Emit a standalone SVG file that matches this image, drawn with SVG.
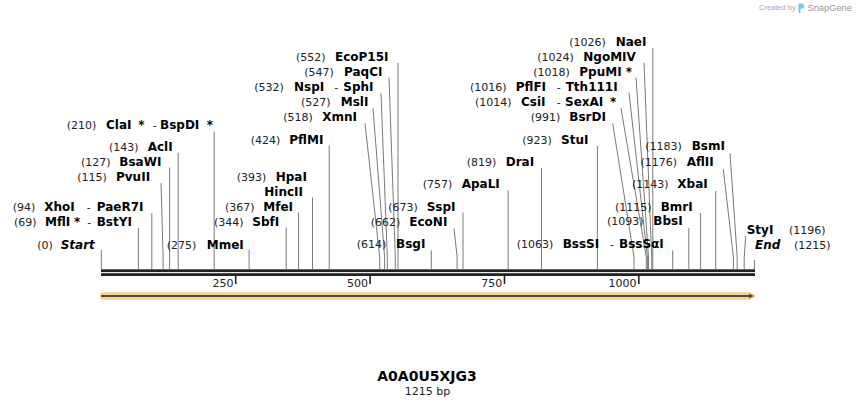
<svg xmlns="http://www.w3.org/2000/svg" width="856" height="408" viewBox="0 0 856 408">
<style>
text{font-family:"DejaVu Sans",Verdana,sans-serif;font-size:11px;fill:#222}
.b{font-weight:bold;font-size:12px;fill:#000}
.i{font-style:italic}
.c line,.c polyline{stroke:#7a7a7a;stroke-width:1;fill:none}
.tk{stroke:#222;stroke-width:1.6}
.tl{text-anchor:end}
.wm{font-family:"Liberation Sans",Arial,sans-serif;fill:#aaa}
</style>
<rect width="856" height="408" fill="#fff"/>
<g id="watermark">
<text class="wm" x="759" y="10" style="font-size:7.5px">Created by</text>
<path d="M798.5,3.5 h3 a2.6,2.6 0 0 1 0,5.2 h-1 v4.3 h-2 z" fill="#7cc6ee"/>
<text class="wm" x="807.5" y="11" style="font-size:9.3px;fill:#999">SnapGene</text>
</g>
<g id="connectors" class="c">
<line x1="101.3" y1="250" x2="101.3" y2="269"/>
<line x1="138.4" y1="228" x2="138.4" y2="269"/>
<line x1="151.8" y1="213" x2="151.8" y2="269"/>
<polyline points="161,183 163.1,257 163.1,269"/>
<line x1="169.6" y1="167.5" x2="169.6" y2="269"/>
<line x1="178.2" y1="152.7" x2="178.2" y2="269"/>
<line x1="214.2" y1="131.5" x2="214.2" y2="269"/>
<line x1="249.1" y1="250" x2="249.1" y2="269"/>
<line x1="286.2" y1="227.5" x2="286.2" y2="269"/>
<line x1="298.6" y1="212.5" x2="298.6" y2="269"/>
<line x1="312.5" y1="197.5" x2="312.5" y2="269"/>
<line x1="329.2" y1="145.5" x2="329.2" y2="269"/>
<polyline points="365,123.3 379.7,257 379.7,269"/>
<polyline points="373,108.3 384.6,257 384.6,269"/>
<polyline points="381,93.3 387.3,257 387.3,269"/>
<polyline points="389,77.7 395.3,257 395.3,269"/>
<line x1="398" y1="63" x2="398" y2="269"/>
<line x1="431.3" y1="250.5" x2="431.3" y2="269"/>
<polyline points="454,228.3 457.1,257 457.1,269"/>
<line x1="463" y1="212.5" x2="463" y2="269"/>
<line x1="508.2" y1="190.5" x2="508.2" y2="269"/>
<line x1="541.5" y1="168" x2="541.5" y2="269"/>
<line x1="597.4" y1="146" x2="597.4" y2="269"/>
<polyline points="612.7,123.3 634,257 634,269"/>
<polyline points="621,108.3 646.3,257 646.3,269"/>
<polyline points="629,92.7 647.4,257 647.4,269"/>
<polyline points="636,77.7 648.5,257 648.5,269"/>
<polyline points="644,62.7 651.7,257 651.7,269"/>
<line x1="652.8" y1="48" x2="652.8" y2="269"/>
<line x1="672.7" y1="250.5" x2="672.7" y2="269"/>
<line x1="688.8" y1="228" x2="688.8" y2="269"/>
<line x1="700.6" y1="213" x2="700.6" y2="269"/>
<line x1="715.7" y1="191" x2="715.7" y2="269"/>
<polyline points="723.3,169 733.4,257 733.4,269"/>
<polyline points="730,153.3 737.2,257 737.2,269"/>
<polyline points="745.7,236 744.2,258 744.2,269"/>
<line x1="754.4" y1="260" x2="754.4" y2="269"/>
</g>
<g id="sequence">
<rect x="101" y="269.3" width="654" height="2.8" fill="#222"/>
<rect x="101" y="273.2" width="654" height="2.8" fill="#222"/>
<line class="tk" x1="235.7" y1="276" x2="235.7" y2="284"/>
<line class="tk" x1="370.1" y1="276" x2="370.1" y2="284"/>
<line class="tk" x1="504.5" y1="276" x2="504.5" y2="284"/>
<line class="tk" x1="638.8" y1="276" x2="638.8" y2="284"/>
<text class="tl" x="233.5" y="287">250</text>
<text class="tl" x="368" y="287">500</text>
<text class="tl" x="502.3" y="287">750</text>
<text class="tl" x="636.6" y="287">1000</text>
</g>
<g id="feature">
<path d="M101,292.8 H750 L755.8,296 L750,299.2 H101 Z" fill="#fdd58e" stroke="#f7c66a" stroke-width="0.8"/>
<line x1="101" y1="296" x2="751" y2="296" stroke="#4a4a4a" stroke-width="2"/>
<path d="M749,293.6 L753.8,296 L749,298.4 Z" fill="#4a4a4a"/>
</g>
<g id="n-start"><text x="37.3" y="248.5">(0)</text><text class="b i" x="60.7" y="248.5">Start</text></g>
<g id="n-mfli"><text x="14" y="226">(69)</text><text class="b" x="45" y="226">MflI</text><text class="b" x="74" y="226">*</text><text x="87.3" y="226">-</text><text class="b" x="96.7" y="226">BstYI</text></g>
<g id="n-xhoi"><text x="12.7" y="211">(94)</text><text class="b" x="44.3" y="211">XhoI</text><text x="86.7" y="211">-</text><text class="b" x="96.7" y="211">PaeR7I</text></g>
<g id="n-pvuii"><text x="77.3" y="181">(115)</text><text class="b" x="116" y="181">PvuII</text></g>
<g id="n-bsawi"><text x="81" y="166">(127)</text><text class="b" x="119.3" y="166">BsaWI</text></g>
<g id="n-acli"><text x="109" y="151">(143)</text><text class="b" x="147.7" y="151">AclI</text></g>
<g id="n-clai"><text x="66.7" y="129">(210)</text><text class="b" x="106" y="129">ClaI</text><text class="b" x="138.3" y="129">*</text><text x="152.7" y="129">-</text><text class="b" x="160" y="129">BspDI</text><text class="b" x="206.7" y="129">*</text></g>
<g id="n-mmei"><text x="166.7" y="248.5">(275)</text><text class="b" x="206.7" y="248.5">MmeI</text></g>
<g id="n-sbfi"><text x="214" y="225.5">(344)</text><text class="b" x="252.3" y="225.5">SbfI</text></g>
<g id="n-mfei"><text x="225" y="210.5">(367)</text><text class="b" x="263.3" y="210.5">MfeI</text></g>
<g id="n-hincii"><text class="b" x="264.3" y="195.5">HincII</text></g>
<g id="n-hpai"><text x="236.7" y="180.5">(393)</text><text class="b" x="275.7" y="180.5">HpaI</text></g>
<g id="n-pflmi"><text x="250.7" y="143.5">(424)</text><text class="b" x="289.3" y="143.5">PflMI</text></g>
<g id="n-xmni"><text x="283.3" y="121">(518)</text><text class="b" x="322.3" y="121">XmnI</text></g>
<g id="n-msli"><text x="301" y="105.7">(527)</text><text class="b" x="340.7" y="105.7">MslI</text></g>
<g id="n-nspi"><text x="254.3" y="90.7">(532)</text><text class="b" x="294" y="90.7">NspI</text><text x="334.3" y="90.7">-</text><text class="b" x="343.3" y="90.7">SphI</text></g>
<g id="n-paqci"><text x="304.3" y="75.7">(547)</text><text class="b" x="344" y="75.7">PaqCI</text></g>
<g id="n-ecop15i"><text x="296" y="60.7">(552)</text><text class="b" x="335" y="60.7">EcoP15I</text></g>
<g id="n-bsgi"><text x="356.7" y="248">(614)</text><text class="b" x="396" y="248">BsgI</text></g>
<g id="n-econi"><text x="370.7" y="225.5">(662)</text><text class="b" x="409.3" y="225.5">EcoNI</text></g>
<g id="n-sspi"><text x="388.3" y="210.5">(673)</text><text class="b" x="426.7" y="210.5">SspI</text></g>
<g id="n-apali"><text x="422.7" y="188">(757)</text><text class="b" x="461.7" y="188">ApaLI</text></g>
<g id="n-drai"><text x="466.7" y="166">(819)</text><text class="b" x="505.7" y="166">DraI</text></g>
<g id="n-stui"><text x="522.3" y="143.5">(923)</text><text class="b" x="561" y="143.5">StuI</text></g>
<g id="n-bsrdi"><text x="530.7" y="121">(991)</text><text class="b" x="569.3" y="121">BsrDI</text></g>
<g id="n-csii"><text x="475" y="105.7">(1014)</text><text class="b" x="521" y="105.7">CsiI</text><text x="556.7" y="105.7">-</text><text class="b" x="565" y="105.7">SexAI</text><text class="b" x="610" y="105.7">*</text></g>
<g id="n-pflfi"><text x="470" y="90.7">(1016)</text><text class="b" x="515.7" y="90.7">PflFI</text><text x="556.7" y="90.7">-</text><text class="b" x="565.7" y="90.7">Tth111I</text></g>
<g id="n-ppumi"><text x="533.3" y="75.7">(1018)</text><text class="b" x="579.3" y="75.7">PpuMI</text><text class="b" x="625.7" y="75.7">*</text></g>
<g id="n-ngomiv"><text x="537.3" y="60.7">(1024)</text><text class="b" x="583.3" y="60.7">NgoMIV</text></g>
<g id="n-naei"><text x="569.3" y="45.7">(1026)</text><text class="b" x="615.7" y="45.7">NaeI</text></g>
<g id="n-bsssi"><text x="516.7" y="248.3">(1063)</text><text class="b" x="562.7" y="248.3">BssSI</text><text x="610" y="248.3">-</text><text class="b" x="619" y="248.3">BssSαI</text></g>
<g id="n-bbsi"><text x="607" y="225.3">(1093)</text><text class="b" x="653.3" y="225.3">BbsI</text></g>
<g id="n-bmri"><text x="615" y="211">(1115)</text><text class="b" x="660.7" y="211">BmrI</text></g>
<g id="n-xbai"><text x="632" y="188.3">(1143)</text><text class="b" x="677.3" y="188.3">XbaI</text></g>
<g id="n-aflii"><text x="640.5" y="165.7">(1176)</text><text class="b" x="686.7" y="165.7">AflII</text></g>
<g id="n-bsmi"><text x="645.3" y="150.3">(1183)</text><text class="b" x="691.7" y="150.3">BsmI</text></g>
<g id="n-styi"><text class="b" x="746.7" y="233.5">StyI</text><text x="789" y="233.5">(1196)</text></g>
<g id="n-end"><text class="b i" x="755" y="249">End</text><text x="794" y="249">(1215)</text></g>
<g id="title">
<text x="427" y="381" style="font-weight:bold;font-size:14px;fill:#000;text-anchor:middle">A0A0U5XJG3</text>
<text x="427.5" y="395" style="text-anchor:middle">1215 bp</text>
</g>
</svg>
